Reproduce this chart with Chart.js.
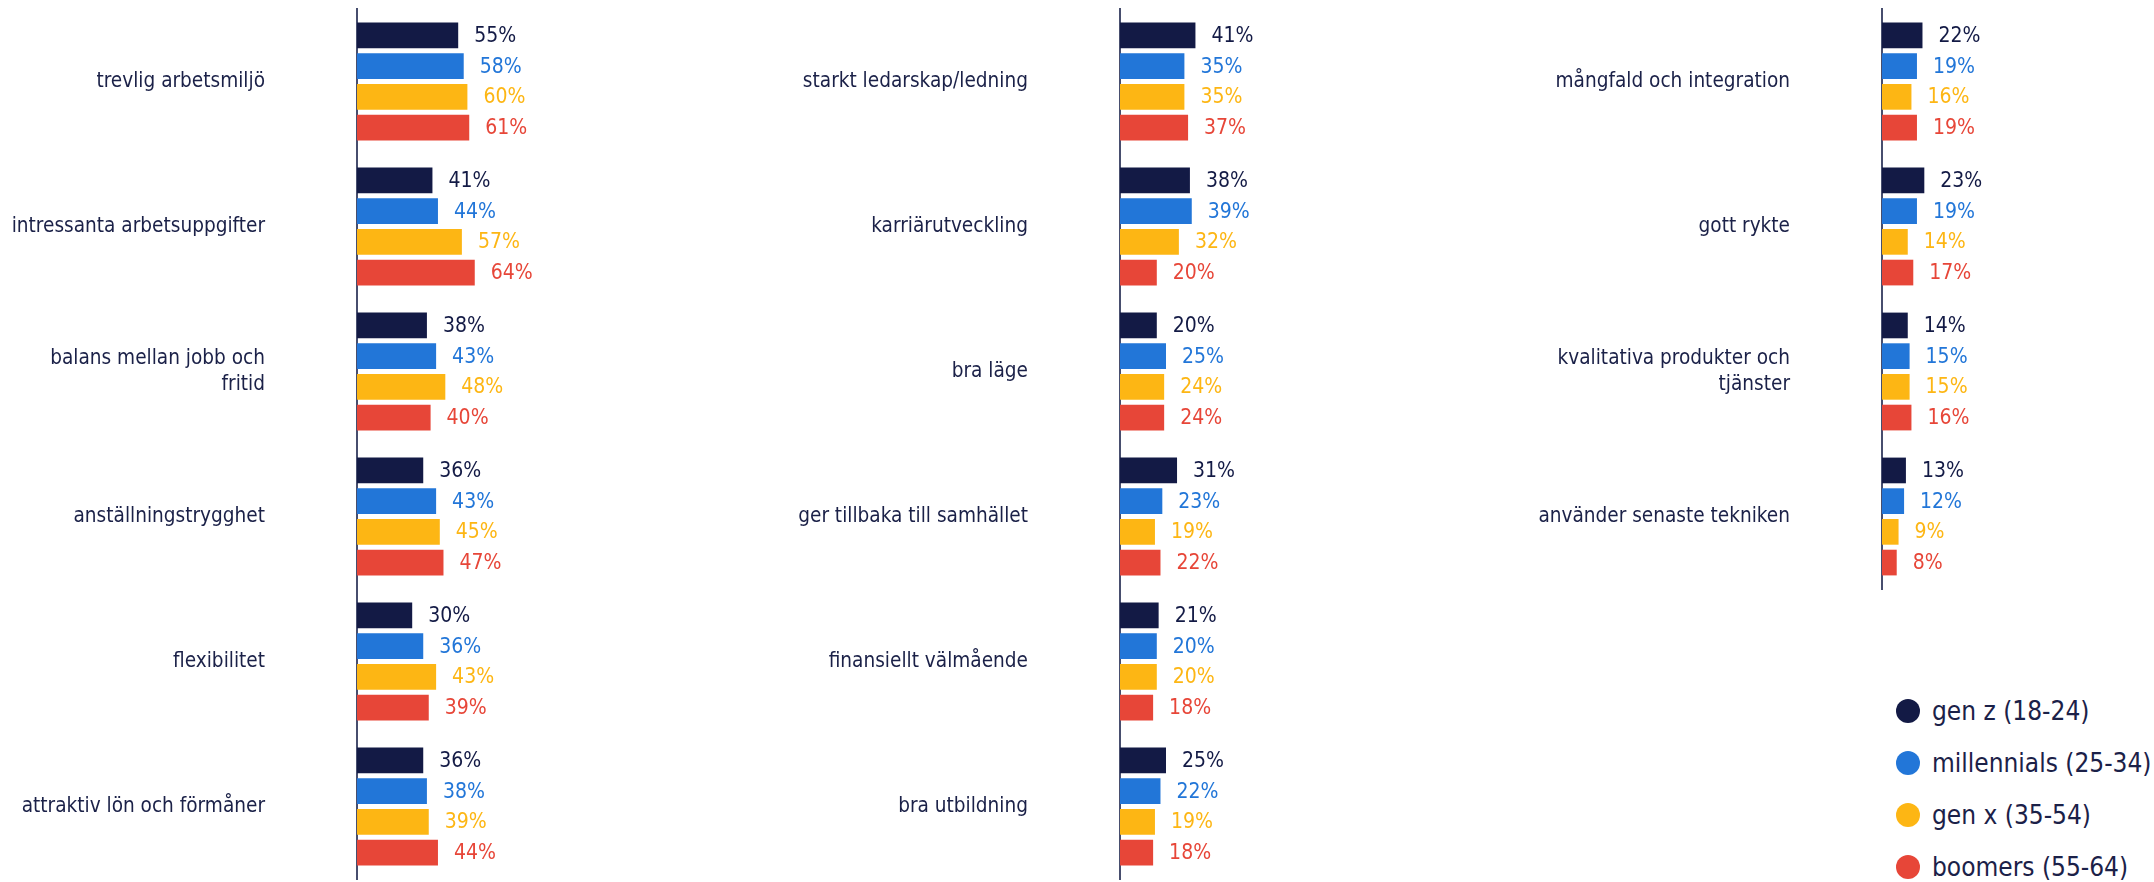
<!DOCTYPE html>
<html>
<head>
<meta charset="utf-8">
<script src="https://cdn.jsdelivr.net/npm/chart.js"></script>
<style>
  body { margin: 0; background: #fff; width: 2154px; height: 882px; position: relative; overflow: hidden; }
  .panel { position: absolute; top: 0; }
  #legend { position: absolute; left: 1896px; top: 685px; font-family: "DejaVu Sans Condensed", "DejaVu Sans", sans-serif; font-size: 26px; color: #1b2148; }
  .item { height: 52px; display: flex; align-items: center; }
  .dot { width: 24px; height: 24px; border-radius: 50%; margin-right: 12px; }
</style>
</head>
<body>
<canvas id="c1" class="panel" style="left:0px" width="740" height="882"></canvas>
<canvas id="c2" class="panel" style="left:720px" width="740" height="882"></canvas>
<canvas id="c3" class="panel" style="left:1480px" width="674" height="592"></canvas>
<div id="legend"></div>
<script>
// series names and colours
const series = ['gen z (18-24)', 'millennials (25-34)', 'gen x (35-54)', 'boomers (55-64)'];
const colors = ['#131a45', '#2276d8', '#fdb614', '#e74638'];

// panel 1
const cats1 = ['trevlig arbetsmiljö', 'intressanta arbetsuppgifter', ['balans mellan jobb och', 'fritid'], 'anställningstrygghet', 'flexibilitet', 'attraktiv lön och förmåner'];
const genz1 = [55, 41, 38, 36, 30, 36];
const mill1 = [58, 44, 43, 43, 36, 38];
const genx1 = [60, 57, 48, 45, 43, 39];
const boom1 = [61, 64, 40, 47, 39, 44];

// panel 2
const cats2 = ['starkt ledarskap/ledning', 'karriärutveckling', 'bra läge', 'ger tillbaka till samhället', 'finansiellt välmående', 'bra utbildning'];
const genz2 = [41, 38, 20, 31, 21, 25];
const mill2 = [35, 39, 25, 23, 20, 22];
const genx2 = [35, 32, 24, 19, 20, 19];
const boom2 = [37, 20, 24, 22, 18, 18];

// panel 3
const cats3 = ['mångfald och integration', 'gott rykte', ['kvalitativa produkter och', 'tjänster'], 'använder senaste tekniken'];
const genz3 = [22, 23, 14, 13];
const mill3 = [19, 19, 15, 12];
const genx3 = [16, 14, 15, 9];
const boom3 = [19, 17, 16, 8];

const FONT = '"DejaVu Sans Condensed", "DejaVu Sans", sans-serif';

// percent text right of each bar
const valueLabels = {
  id: 'valueLabels',
  afterDatasetsDraw(chart) {
    const ctx = chart.ctx;
    ctx.save();
    ctx.font = '21px ' + FONT;
    ctx.textBaseline = 'middle';
    ctx.textAlign = 'left';
    chart.data.datasets.forEach((ds, i) => {
      ctx.fillStyle = ds.backgroundColor;
      chart.getDatasetMeta(i).data.forEach((bar, j) => {
        ctx.fillText(ds.data[j] + '%', bar.x + 16, bar.y + 1);
      });
    });
    ctx.restore();
  }
};

function makeChart(id, labels, values, axisWidth, padRight) {
  new Chart(document.getElementById(id), {
    type: 'bar',
    data: {
      labels: labels,
      datasets: values.map((v, i) => ({
        label: series[i],
        data: v,
        backgroundColor: colors[i],
        borderWidth: 0,
        categoryPercentage: 0.847,
        barPercentage: 0.837
      }))
    },
    options: {
      indexAxis: 'y',
      responsive: false,
      animation: false,
      layout: { padding: { top: 9, bottom: 3, right: padRight } },
      plugins: { legend: { display: false }, tooltip: { enabled: false } },
      scales: {
        x: { display: false, min: 0, max: 100 },
        y: {
          afterFit: (s) => { s.width = axisWidth; s.paddingTop = 0; s.paddingBottom = 0; },
          grid: { drawOnChartArea: false, drawTicks: true, tickLength: 90, color: 'rgba(0,0,0,0)' },
          border: { display: true, color: '#474e6e', width: 2 },
          ticks: {
            padding: 2,
            color: '#1b2148',
            font: { family: FONT, size: 20.6, lineHeight: 1.25 }
          }
        }
      }
    },
    plugins: [valueLabels]
  });
}

makeChart('c1', cats1, [genz1, mill1, genx1, boom1], 357, 199);
makeChart('c2', cats2, [genz2, mill2, genx2, boom2], 400, 156);
makeChart('c3', cats3, [genz3, mill3, genx3, boom3], 402, 88);

// legend
const legend = document.getElementById('legend');
series.forEach((name, i) => {
  const row = document.createElement('div');
  row.className = 'item';
  row.innerHTML = '<span class="dot" style="background:' + colors[i] + '"></span><span>' + name + '</span>';
  legend.appendChild(row);
});
</script>
</body>
</html>
